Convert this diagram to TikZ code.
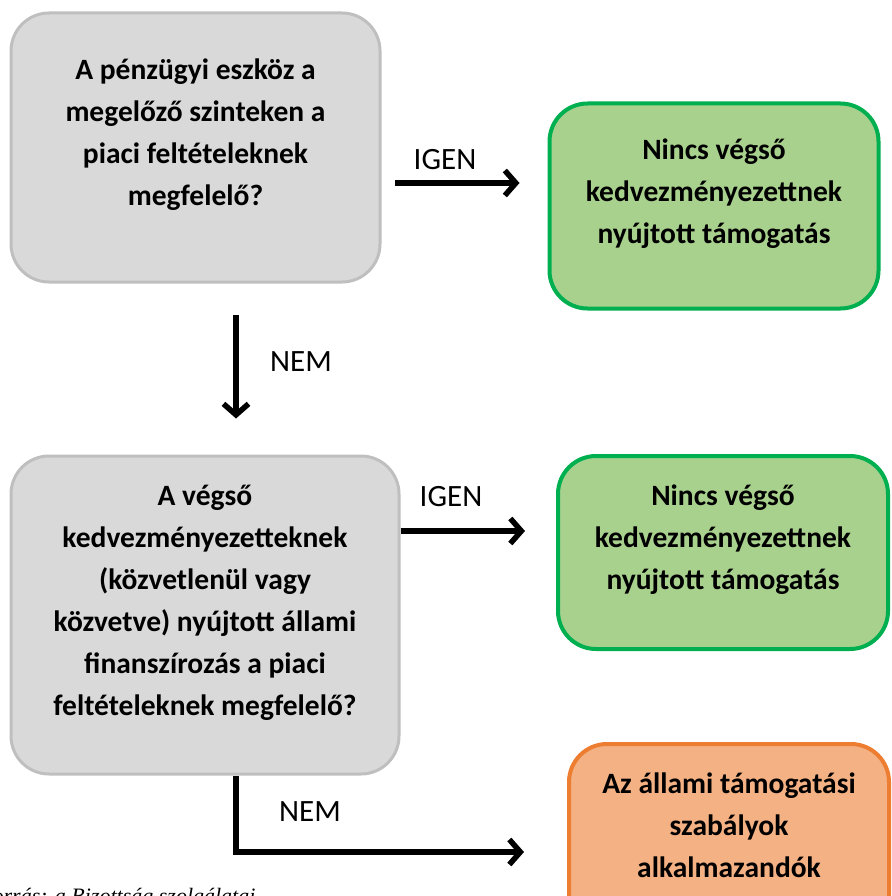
\documentclass[tikz,border=0pt]{standalone}
\usepackage{fontspec}
\setmainfont{Carlito}
\newfontfamily\srcfont{Liberation Serif}
\usetikzlibrary{arrows.meta,positioning}

\definecolor{qfill}{HTML}{D9D9D9}
\definecolor{qline}{HTML}{BFBFBF}
\definecolor{gfill}{HTML}{A9D18E}
\definecolor{gline}{HTML}{00B050}
\definecolor{ofill}{HTML}{F4B183}
\definecolor{oline}{HTML}{ED7D31}

\tikzset{
  box/.style={draw, rounded corners=38pt, align=center, inner sep=0pt,
    font=\bfseries\fontsize{29.5}{42}\selectfont, text depth=30pt},
  qbox/.style={box, fill=qfill, draw=qline, line width=3pt},
  gbox/.style={box, fill=gfill, draw=gline, line width=4pt},
  obox/.style={box, fill=ofill, draw=oline, line width=4pt},
  flow/.style={line width=5.5pt, -{Straight Barb[length=11pt,width=25pt]}},
  lbl/.style={font=\fontsize{31}{33}\selectfont}
}

\begin{document}
\begin{tikzpicture}[x=1pt,y=-1pt]
\clip (0,0) rectangle (891,896);
\useasboundingbox (0,0) rectangle (891,896);

% boxes
\node[qbox, minimum width=369pt, minimum height=269pt] (q1) at (195.5,147.5)
  {A pénzügyi eszköz a\\megelőző szinteken a\\piaci feltételeknek\\megfelelő?};
\node[gbox, minimum width=329pt, minimum height=205pt] (g1) at (714,206)
  {Nincs végső\\kedvezményezettnek\\nyújtott támogatás};
\node[qbox, minimum width=388pt, minimum height=318pt] (q2) at (205,615)
  {A végső\\kedvezményezetteknek\\(közvetlenül vagy\\közvetve) nyújtott állami\\finanszírozás a piaci\\feltételeknek megfelelő?};
\node[gbox, minimum width=330pt, minimum height=193pt] (g2) at (723,552.5)
  {Nincs végső\\kedvezményezettnek\\nyújtott támogatás};
\node[obox, minimum width=320pt, minimum height=192pt] (o1) at (729,840)
  {Az állami támogatási\\szabályok\\alkalmazandók};

% connectors
\coordinate (a1) at (395,183);
\coordinate (a2) at ([yshift=84pt]q2.east);
\coordinate (nemx) at (236,0);
\coordinate (nemy) at (236,852);

\draw[flow, shorten >=28pt] (a1) -- (a1 -| g1.west);
\draw[flow, shorten >=31pt] (a2) -- (a2 -| g2.west);
\draw[flow, shorten <=31pt, shorten >=36pt] (nemx |- q1.south) -- (nemx |- q2.north);
\draw[flow, shorten >=43pt] (nemy |- q2.south) -- (nemy) -- (nemy -| o1.west);

% labels
\node[lbl] (igen1) at (445,160) {IGEN};
\node[lbl] (igen2) at (451,497) {IGEN};
\node[lbl] (nem1) at (301,362) {NEM};
\node[lbl] (nem2) at (310,812) {NEM};

\node[font=\srcfont\itshape\fontsize{22}{24}\selectfont, anchor=base east] (src) at (259,903)
  {Forrás: a Bizottság szolgálatai};
\end{tikzpicture}
\end{document}
